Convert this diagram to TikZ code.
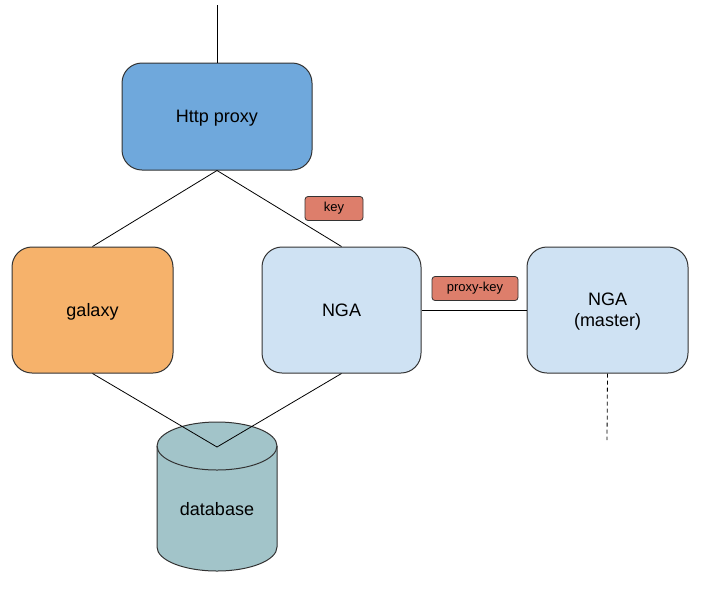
\documentclass[tikz,border=0pt]{standalone}
\usepackage{fontspec}
\setmainfont{Liberation Sans}
\usetikzlibrary{shapes.geometric}
\definecolor{proxyblue}{HTML}{6FA8DC}
\definecolor{galaxyorange}{HTML}{F6B26B}
\definecolor{ngablue}{HTML}{CFE2F3}
\definecolor{dbteal}{HTML}{A2C4C9}
\definecolor{keyred}{HTML}{DD7E6B}
\definecolor{edge}{HTML}{333333}
\begin{document}
\begin{tikzpicture}[x=1pt,y=-1pt,
  box/.style={draw=edge, line width=1pt, rounded corners=20pt, minimum width=160pt, minimum height=126pt, font=\fontsize{18}{21}\selectfont, align=center, inner sep=0pt, text depth=0pt},
  tag/.style={draw=edge, line width=0.8pt, rounded corners=3pt, fill=keyred, font=\fontsize{13}{15}\selectfont, inner sep=0pt, minimum height=24pt},
  conn/.style={line width=0.8pt, draw=black}]
\useasboundingbox (0,0) rectangle (701,595);
\coordinate (top) at (217,5);
\node[box, fill=proxyblue, minimum width=190pt, minimum height=107pt] (proxy) at (217,116.5) {Http proxy};
\node[box, fill=galaxyorange, minimum width=161pt] (galaxy) at (92.5,310) {galaxy};
\node[box, fill=ngablue, minimum width=159pt] (nga) at (341.5,310) {NGA};
\node[box, fill=ngablue, minimum width=161pt] (master) at (607.5,310) {NGA\\(master)};
\node[tag, minimum width=58pt] (key) at (334,208.5) {key};
\node[tag, minimum width=86pt] (pkey) at (475,288.5) {proxy-key};
% database cylinder
\path[draw=edge, line width=1pt, fill=dbteal]
  (157,446) -- (157,547) arc[start angle=180, end angle=360, x radius=60pt, y radius=24pt] -- (277,446)
  arc[start angle=0, end angle=180, x radius=60pt, y radius=24pt] -- cycle;
\draw[edge, line width=1pt] (157,446) arc[start angle=180, end angle=360, x radius=60pt, y radius=24pt];
\node[font=\fontsize{18}{21}\selectfont] (db) at (217,509) {database};
\coordinate (dbtop) at (217,447);
\coordinate (dash) at (607,440);
% connectors
\draw[conn] (top) -- (proxy.north);
\draw[conn] (proxy.south) -- (galaxy.north);
\draw[conn] (proxy.south) -- (nga.north);
\draw[conn] (galaxy.south) -- (dbtop);
\draw[conn] (nga.south) -- (dbtop);
\draw[conn] (nga.east) -- (master.west);
\draw[conn, dashed, dash pattern=on 4pt off 3pt] (master.south) -- (dash);
\end{tikzpicture}
\end{document}
